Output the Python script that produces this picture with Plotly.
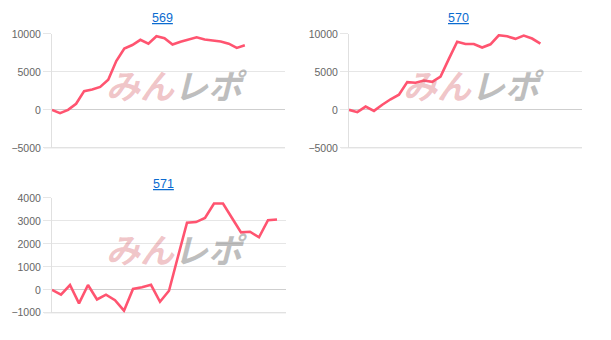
import plotly.graph_objects as go

titles = ["569", "570", "571"]
v569 = [0, -430, 0, 800, 2470, 2680, 3020, 3960, 6430, 8090, 8550, 9230, 8720, 9700,
        9450, 8620, 8980, 9320, 9570, 9280, 9150, 9020, 8720, 8170, 8510]
v570 = [0, -300, 430, -130, 680, 1400, 2000, 3660, 3580, 3870, 3700, 4380, 6720, 8980,
        8680, 8680, 8210, 8640, 9830, 9700, 9360, 9790, 9400, 8720]
v571 = [0, -210, 210, -590, 210, -420, -210, -450, -910, 40, 110, 220, -520, -40,
        1450, 2920, 2950, 3130, 3760, 3760, 3130, 2500, 2530, 2290, 3030, 3060]
series = [v569, v570, v571]
x_max = [29, 28, 26]
y_ranges = [[-5000, 10000], [-5000, 10000], [-1000, 4000]]
y_dticks = [5000, 5000, 1000]

W, H = 611, 340
# plot boxes in pixels: (left, right, top, bottom)
boxes = [(52, 285, 29, 147), (349, 582, 29, 147), (52, 286, 199, 318)]
title_pos = [(162, 12.5), (458, 12.5), (163, 184)]

LINE = "rgb(255,84,112)"
fig = go.Figure()
layout = dict(width=W, height=H, margin=dict(l=0, r=0, t=0, b=0),
              paper_bgcolor="white", plot_bgcolor="white", showlegend=False,
              font=dict(family="Liberation Sans, Arial, sans-serif", color="#666"))
annotations = []
for i, (vals, box) in enumerate(zip(series, boxes)):
    n = i + 1
    xa = "x" if n == 1 else f"x{n}"
    ya = "y" if n == 1 else f"y{n}"
    fig.add_trace(go.Scatter(x=list(range(len(vals))), y=vals, mode="lines",
                             line=dict(color=LINE, width=2.6), xaxis=xa, yaxis=ya,
                             hoverinfo="x+y"))
    l, r, t, b = box
    layout[f"xaxis{'' if n == 1 else n}"] = dict(
        domain=[l / W, r / W], range=[0, x_max[i]], anchor=ya,
        showticklabels=False, showgrid=False, zeroline=False,
        showline=False, ticks="", fixedrange=True)
    layout[f"yaxis{'' if n == 1 else n}"] = dict(
        domain=[1 - b / H, 1 - t / H], range=y_ranges[i], dtick=y_dticks[i],
        tickformat="d",
        anchor=xa, showgrid=True, gridcolor="#e6e6e6", gridwidth=1,
        zeroline=True, zerolinecolor="#cfcfcf", zerolinewidth=1,
        showline=True, linecolor="#e0e0e0", linewidth=1,
        ticks="outside", ticklen=8, tickcolor="#e6e6e6",
        tickfont=dict(size=10.5, color="#666"), fixedrange=True)
    annotations.append(dict(
        text=f"<u>{titles[i]}</u>", x=title_pos[i][0] / W, y=1 - title_pos[i][1] / H,
        xref="paper", yref="paper", showarrow=False, xanchor="center", yanchor="middle",
        font=dict(size=12.5, color="#0b6bd0", family="Liberation Sans, Arial, sans-serif")))
    # watermark
    cx = l + (r - l) * 0.535
    cy = t + (b - t) * 0.44
    annotations.append(dict(
        text="<b><i><span style='color:rgba(214,90,100,0.36)'>みん</span>"
             "<span style='color:rgba(125,125,125,0.5)'>レポ</span></i></b>",
        x=cx / W, y=1 - cy / H, xref="paper", yref="paper",
        showarrow=False, xanchor="center", yanchor="middle",
        font=dict(size=34, weight=900, family="Noto Sans CJK JP")))

shapes = []
for i, box in enumerate(boxes):
    l, r, t, b = box
    shapes.append(dict(type="line", xref="paper", yref="paper", x0=(l - 8) / W, x1=r / W,
                       y0=1 - b / H, y1=1 - b / H, line=dict(color="#d6d6d6", width=1),
                       layer="below"))
layout["annotations"] = annotations
layout["shapes"] = shapes
fig.update_layout(**layout)
fig.write_html("out.html")
